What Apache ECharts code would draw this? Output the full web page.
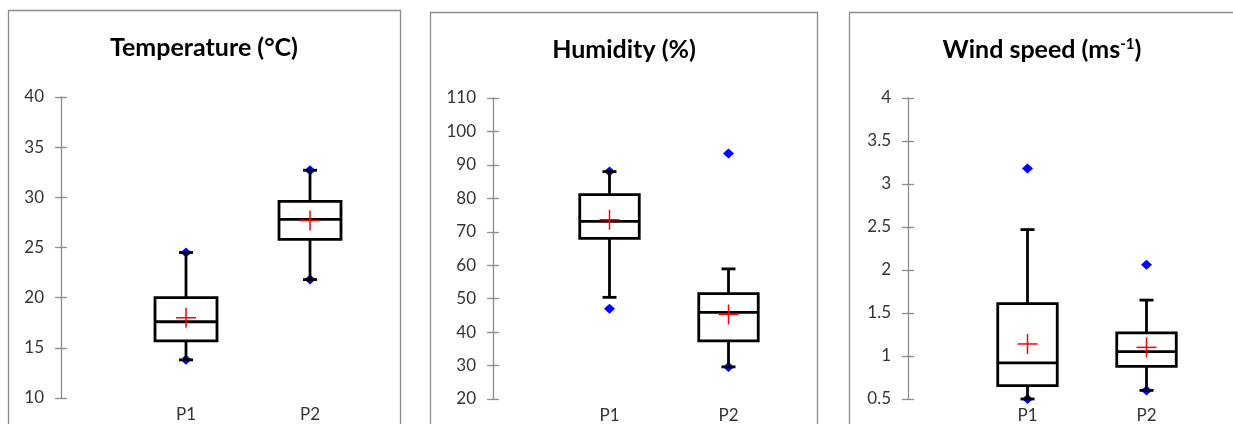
<!DOCTYPE html>
<html>
<head>
<meta charset="utf-8">
<script src="https://cdn.jsdelivr.net/npm/echarts@6/dist/echarts.min.js"></script>
<style>
  html, body { margin: 0; padding: 0; background: #fff; }
  #chart { width: 1233px; height: 424px; }
</style>
</head>
<body>
<div id="chart"></div>
<script>
// stations
const categories = ['P1', 'P2']

// temperature (°C)
const tempLow = [13.8, 21.8]
const tempQ1 = [15.7, 25.8]
const tempMedian = [17.6, 27.8]
const tempQ3 = [20.0, 29.6]
const tempHigh = [24.5, 32.7]
const tempMean = [18.0, 27.7]
const tempMin = [13.8, 21.8]
const tempMax = [24.5, 32.7]

// humidity (%)
const humLow = [50.4, 29.6]
const humQ1 = [68.0, 37.4]
const humMedian = [73.1, 45.9]
const humQ3 = [81.1, 51.5]
const humHigh = [88.0, 58.9]
const humMean = [73.6, 45.3]
const humMin = [47.0, 29.6]
const humMax = [88.0, 93.4]

// wind speed (m/s)
const windLow = [0.50, 0.60]
const windQ1 = [0.655, 0.88]
const windMedian = [0.92, 1.05]
const windQ3 = [1.61, 1.27]
const windHigh = [2.47, 1.65]
const windMean = [1.14, 1.10]
const windMin = [0.50, 0.60]
const windMax = [3.18, 2.06]

// axis ranges
const tempAxis = [10, 40, 5]
const humAxis = [20, 110, 10]
const windAxis = [0.5, 4, 0.5]

const panels = [
  {
    title: 'Temperature (°C)',
    stats: [tempLow, tempQ1, tempMedian, tempQ3, tempHigh, tempMean],
    min: tempMin, max: tempMax, axis: tempAxis,
    grid: { left: 124, width: 248, top: 97, height: 301 }, offset: 63,
    frame: { x: 8.5, y: 10.5, width: 392 }, titleX: 204, titleY: 48,
  },
  {
    title: 'Humidity (%)',
    stats: [humLow, humQ1, humMedian, humQ3, humHigh, humMean],
    min: humMin, max: humMax, axis: humAxis,
    grid: { left: 550, width: 238, top: 98, height: 301 }, offset: 57,
    frame: { x: 430.5, y: 12.5, width: 387 }, titleX: 624, titleY: 50,
  },
  {
    title: '{t|Wind speed (ms}{s|-1}{t|)}',
    stats: [windLow, windQ1, windMedian, windQ3, windHigh, windMean],
    min: windMin, max: windMax, axis: windAxis,
    grid: { left: 968, width: 238, top: 98, height: 301 }, offset: 60,
    frame: { x: 849.5, y: 12.5, width: 400 }, titleX: 1042, titleY: 50,
  },
]

const FONT = 'Lato, "Open Sans", sans-serif'
const AXIS_GREY = '#8c8c8c'
const TITLE_SIZE = 25

// caixa, bigodes, mediana e cruz da média
const renderBox = (params, api) => {
  const x = api.value(0)
  const cx = api.coord([x, 0])[0]
  const y = (i) => api.coord([x, api.value(i)])[1]
  const hw = api.size([1, 0])[0] * 0.25
  const cap = 7
  const black = { stroke: '#000', lineWidth: 2.8, fill: null }
  const red = { stroke: '#ff0000', lineWidth: 1.5 }
  const yLow = y(1), yQ1 = y(2), yMed = y(3), yQ3 = y(4), yHigh = y(5), yMean = y(6)
  return {
    type: 'group',
    children: [
      { type: 'line', shape: { x1: cx, y1: yLow, x2: cx, y2: yQ1 }, style: black },
      { type: 'line', shape: { x1: cx, y1: yQ3, x2: cx, y2: yHigh }, style: black },
      { type: 'line', shape: { x1: cx - cap, y1: yLow, x2: cx + cap, y2: yLow }, style: black },
      { type: 'line', shape: { x1: cx - cap, y1: yHigh, x2: cx + cap, y2: yHigh }, style: black },
      { type: 'rect', shape: { x: cx - hw, y: yQ3, width: hw * 2, height: yQ1 - yQ3 }, style: black },
      { type: 'line', shape: { x1: cx - hw, y1: yMed, x2: cx + hw, y2: yMed }, style: black },
      { type: 'line', shape: { x1: cx - 10, y1: yMean, x2: cx + 10, y2: yMean }, style: red },
      { type: 'line', shape: { x1: cx, y1: yMean - 10, x2: cx, y2: yMean + 10 }, style: red },
    ],
  }
}

const option = {
  backgroundColor: '#fff',
  animation: false,
  grid: panels.map((p) => p.grid),
  xAxis: panels.map((p, i) => ({
    type: 'category',
    gridIndex: i,
    data: categories,
    axisLine: { show: false },
    axisTick: { show: false },
    axisLabel: { color: '#333', fontSize: 17, fontFamily: FONT, margin: 8 },
  })),
  yAxis: panels.flatMap((p, i) => {
    const base = {
      type: 'value',
      gridIndex: i,
      position: 'left',
      offset: p.offset,
      min: p.axis[0],
      max: p.axis[1],
      interval: p.axis[2],
      splitLine: { show: false },
    }
    return [
      {
        ...base,
        axisLine: { show: true, lineStyle: { color: AXIS_GREY, width: 1.3 } },
        axisTick: { show: true, length: 6, lineStyle: { color: AXIS_GREY, width: 1.3 } },
        axisLabel: { color: '#333', fontSize: 17, fontFamily: FONT, margin: 17 },
      },
      {
        ...base,
        axisLine: { show: false },
        axisTick: { show: true, inside: true, length: 6, lineStyle: { color: AXIS_GREY, width: 1.3 } },
        axisLabel: { show: false },
      },
    ]
  }),
  series: panels.flatMap((p, i) => [
    {
      type: 'scatter',
      xAxisIndex: i,
      yAxisIndex: i * 2,
      symbol: 'diamond',
      symbolSize: [11, 10],
      itemStyle: { color: '#0000ff', opacity: 1 },
      z: 1,
      data: categories.flatMap((c, k) => [[k, p.min[k]], [k, p.max[k]]]),
    },
    {
      type: 'custom',
      xAxisIndex: i,
      yAxisIndex: i * 2,
      renderItem: renderBox,
      z: 2,
      encode: { x: 0, y: [1, 2, 3, 4, 5, 6] },
      data: categories.map((c, k) => [k, ...p.stats.map((s) => s[k])]),
    },
  ]),
  graphic: panels.flatMap((p) => [
    {
      type: 'rect',
      silent: true,
      shape: { x: p.frame.x, y: p.frame.y, width: p.frame.width, height: 500 },
      style: { fill: null, stroke: AXIS_GREY, lineWidth: 1.3 },
      z: -1,
    },
    {
      type: 'text',
      x: p.titleX,
      y: p.titleY,
      style: {
        text: p.title,
        align: 'center',
        verticalAlign: 'middle',
        fill: '#000',
        font: `bold ${TITLE_SIZE}px ${FONT}`,
        rich: {
          t: { fontSize: TITLE_SIZE, fontWeight: 'bold', fontFamily: FONT, fill: '#000' },
          s: { fontSize: 15, fontWeight: 'bold', fontFamily: FONT, fill: '#000', padding: [0, 0, 11, 0] },
        },
      },
    },
  ]),
}

const chart = echarts.init(document.getElementById('chart'))
chart.setOption(option)
</script>
</body>
</html>
